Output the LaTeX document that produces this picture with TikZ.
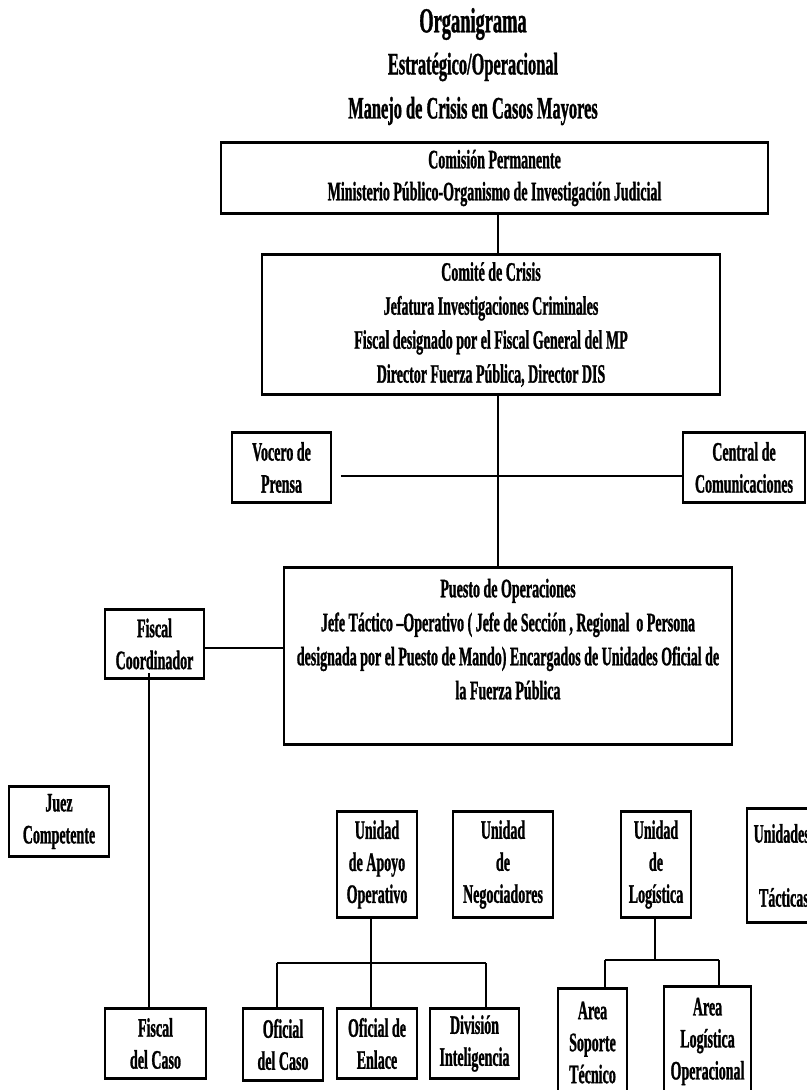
\documentclass[tikz,border=0pt]{standalone}
\usepackage{fontspec}
\setmainfont{Liberation Serif}[FakeStretch=0.525,FakeBold=1]
\begin{document}
\begin{tikzpicture}[x=0.75pt,y=-0.75pt,
  box/.style={draw, line width=0.9pt, inner sep=0pt, align=center,
    font=\bfseries\fontsize{20}{24}\selectfont},
  conn/.style={line width=1.1pt},
  thickconn/.style={line width=2.2pt},
  edge/.style={line width=2pt},
  ttl/.style={font=\bfseries\fontsize{23.4}{26}\selectfont, inner sep=0pt}]
\useasboundingbox (0,0) rectangle (807,1090);
\clip (0,0) rectangle (807,1090);
\newcommand\mybox[6]{\node[box, minimum width=#4*0.75pt, minimum height=#5*0.75pt] (#1) at (#2,#3) {#6};}
% titles
\node[ttl, font=\bfseries\fontsize{26.3}{28}\selectfont] (t1) at (473,24) {Organigrama};
\node[ttl] (t2) at (473,67) {Estratégico/Operacional};
\node[ttl] (t3) at (473,111) {Manejo de Crisis en Casos Mayores};
% boxes
\mybox{com}{494.5}{178}{547}{70}{Comisión Permanente\\Ministerio Público-Organismo de Investigación Judicial}
\node[box, font=\bfseries\fontsize{20}{25.5}\selectfont, minimum width=458*0.75pt, minimum height=139*0.75pt] (comite) at (491,324.5) {Comité de Crisis\\Jefatura Investigaciones Criminales\\Fiscal designado por el Fiscal General del MP\\Director Fuerza Pública, Director DIS};
\mybox{vocero}{281.5}{467.5}{99}{69}{Vocero de\\Prensa}
\mybox{central}{744}{467.5}{122}{69}{Central de\\Comunicaciones}
\node[box, font=\bfseries\fontsize{20}{25.5}\selectfont, minimum width=448*0.75pt, minimum height=176*0.75pt] (puesto) at (508,656) {Puesto de Operaciones\\Jefe Táctico –Operativo ( Jefe de Sección , Regional\ \ o Persona\\designada por el Puesto de Mando) Encargados de Unidades Oficial de\\la Fuerza Pública\\\mbox{}};
\mybox{fcoord}{154.5}{644}{99}{68}{Fiscal\\Coordinador}
\mybox{juez}{59}{821.5}{100}{69}{Juez\\Competente}
\mybox{apoyo}{377}{864.5}{80}{105}{Unidad\\de Apoyo\\Operativo}
\mybox{nego}{503}{864.5}{100}{105}{Unidad\\de\\Negociadores}
\mybox{logi}{656}{864.5}{70}{105}{Unidad\\de\\Logística}
\node[box, align=left, minimum width=103*0.75pt, minimum height=113*0.75pt, text width=103*0.75pt] (tact) at (798.5,865.5) {\hspace*{5pt}Unidades\\\mbox{}\\\hspace*{9pt}Tácticas};
\mybox{fcaso}{155.5}{1043.5}{101}{69}{Fiscal\\del Caso}
\mybox{ocaso}{283}{1044.5}{80}{71}{Oficial\\del Caso}
\mybox{oenlace}{377}{1043.5}{80}{69}{Oficial de\\Enlace}
\mybox{divint}{474.5}{1043.5}{89}{69}{División\\Inteligencia}
\mybox{asoporte}{592.5}{1042.5}{69}{107}{Area\\Soporte\\Técnico}
\mybox{alog}{707.5}{1041.5}{87}{109}{Area\\Logística\\Operacional}
% heavier top and bottom edges
\foreach \n in {com,comite,vocero,central,puesto,fcoord,juez,apoyo,nego,logi,tact,fcaso,ocaso,oenlace,divint,asoporte,alog}
  \draw[edge] (\n.north west) -- (\n.north east) (\n.south west) -- (\n.south east);
% connectors
\coordinate (spine) at (498,0);
\draw[conn] (com.south -| spine) -- (comite.north -| spine);
\draw[conn] (comite.south -| spine) -- (puesto.north -| spine);
\coordinate (pl) at (0,476);
\draw[thickconn] ([xshift=7pt]vocero.east |- pl) -- (central.west |- pl);
\draw[thickconn] (fcoord.east |- 0,648) -- (puesto.west |- 0,648);
\coordinate (fx) at (149,0);
\draw[conn] ([yshift=4pt]fcoord.south -| fx) -- (fcaso.north -| fx);
% apoyo tree
\coordinate (ax) at (371,0);
\coordinate (al) at (277,963);
\coordinate (ar) at (486,963);
\draw[conn] (apoyo.south -| ax) -- (oenlace.north -| ax);
\draw[thickconn] (al) -- (ar);
\draw[conn] (al) -- (ocaso.north -| al);
\draw[conn] (ar) -- (divint.north -| ar);
% logistica tree
\coordinate (lx) at (655,0);
\coordinate (ll) at (605,960);
\coordinate (lr) at (719,960);
\draw[conn] (logi.south -| lx) -- (ll -| lx);
\draw[thickconn] (ll) -- (lr);
\draw[conn] (ll) -- (asoporte.north -| ll);
\draw[conn] (lr) -- (alog.north -| lr);
\end{tikzpicture}
\end{document}
